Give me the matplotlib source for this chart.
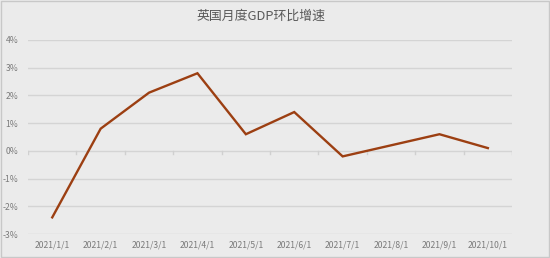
import matplotlib.pyplot as plt
import numpy as np

plt.rcParams['font.family'] = ['Noto Sans CJK SC', 'DejaVu Sans']

months = ['2021/1/1', '2021/2/1', '2021/3/1', '2021/4/1', '2021/5/1',
          '2021/6/1', '2021/7/1', '2021/8/1', '2021/9/1', '2021/10/1']
growth = [-2.4, 0.8, 2.1, 2.8, 0.6, 1.4, -0.2, 0.2, 0.6, 0.1]
yticks = [-3, -2, -1, 0, 1, 2, 3, 4]

bg = '#ebebeb'
fig = plt.figure(figsize=(5.5, 2.58), dpi=100, facecolor=bg)
ax = fig.add_axes([0.051, 0.093, 0.88, 0.752], facecolor=bg)

x = np.arange(len(months))
ax.plot(x, growth, color='#9c3f12', linewidth=1.7, solid_joinstyle='miter')

ax.set_xlim(-0.5, len(months) - 0.5)
ax.set_ylim(-3, 4)
ax.set_yticks(yticks)
ax.set_yticklabels([f'{v}%' for v in yticks])
ax.set_xticks(x)
ax.set_xticklabels(months)
for v in yticks:
    ax.axhline(v, color='#d4d4d4', linewidth=1.0, zorder=0)
# small category boundary ticks below the zero line
for b in np.arange(-0.5, len(months) + 0.5, 1.0):
    ax.plot([b, b], [0, -0.1], color='#d0d0d0', linewidth=1.0, zorder=0)

for s in ax.spines.values():
    s.set_visible(False)
ax.tick_params(length=0, labelsize=6.2, labelcolor='#7a7a7a')
ax.tick_params(axis='x', pad=5)
ax.tick_params(axis='y', pad=7)

fig.text(0.475, 0.935, '英国月度GDP环比增速', ha='center', va='center',
         fontsize=9.3, color='#595959')

border = plt.Rectangle((0.002, 0.004), 0.996, 0.992, transform=fig.transFigure,
                       fill=False, edgecolor='#c8c8c8', linewidth=1.0)
fig.patches.append(border)

fig.savefig('out.png', dpi=100, facecolor=bg)
